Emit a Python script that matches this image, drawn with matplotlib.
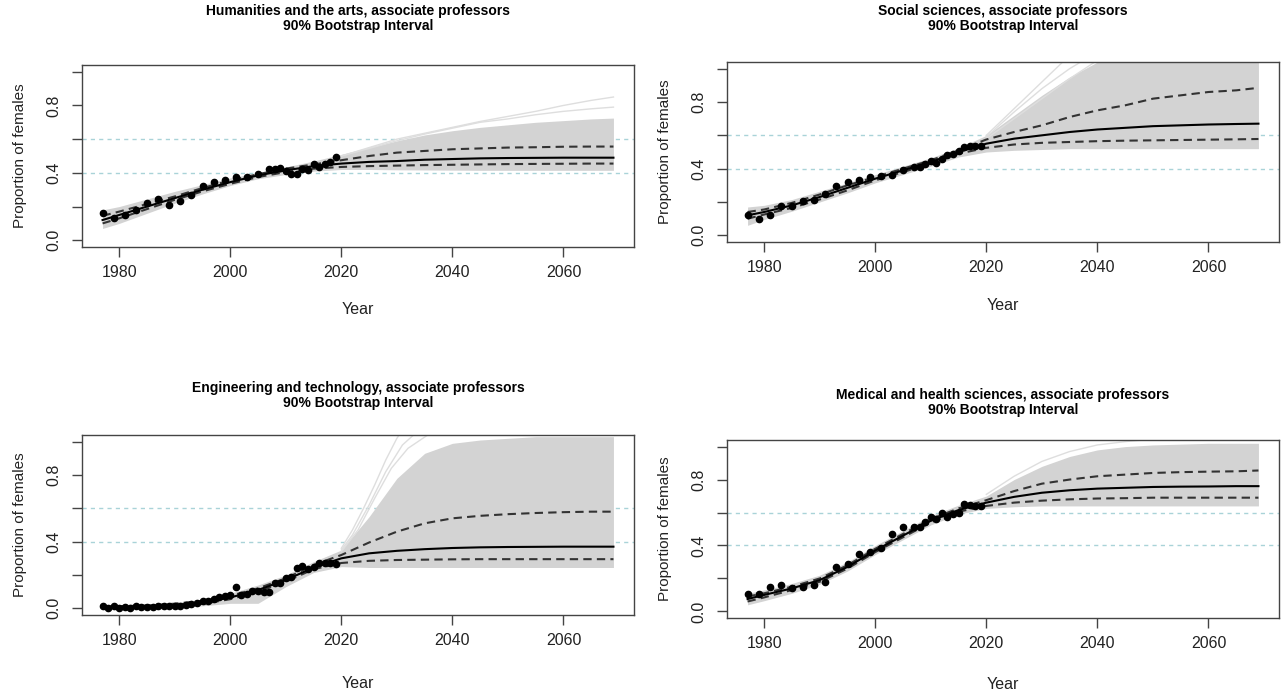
import matplotlib
matplotlib.use('Agg')
import matplotlib.pyplot as plt

plt.rcParams['font.family'] = ['Liberation Sans', 'DejaVu Sans']

# knot years for the fitted / bootstrap curves
knots = [1977, 1980, 1985, 1990, 1995, 2000, 2005, 2010, 2015, 2020,
         2025, 2030, 2035, 2040, 2045, 2050, 2055, 2060, 2065, 2069]

# ---- Humanities and the arts ----
hum_years = [1977, 1979, 1981, 1983, 1985, 1987, 1989, 1991, 1993, 1995, 1997, 1999, 2001, 2003,
             2005, 2007, 2008, 2009, 2010, 2011, 2012, 2013, 2014, 2015, 2016, 2017, 2018, 2019]
hum_obs = [0.16, 0.13, 0.15, 0.18, 0.22, 0.245, 0.21, 0.235, 0.27, 0.32, 0.345, 0.36, 0.375, 0.375,
           0.395, 0.42, 0.425, 0.43, 0.41, 0.395, 0.395, 0.42, 0.415, 0.45, 0.435, 0.45, 0.465, 0.495]
hum_med = [0.12, 0.15, 0.20, 0.25, 0.30, 0.345, 0.385, 0.415, 0.44, 0.455,
           0.465, 0.47, 0.478, 0.482, 0.486, 0.488, 0.489, 0.49, 0.49, 0.49]
hum_hi = [0.145, 0.17, 0.215, 0.26, 0.31, 0.355, 0.392, 0.425, 0.45, 0.475,
          0.50, 0.52, 0.53, 0.54, 0.545, 0.55, 0.552, 0.555, 0.556, 0.556]
hum_lo = [0.10, 0.13, 0.185, 0.24, 0.29, 0.335, 0.375, 0.405, 0.425, 0.435,
          0.44, 0.443, 0.446, 0.448, 0.45, 0.452, 0.453, 0.454, 0.455, 0.455]
hum_band_hi = [0.18, 0.20, 0.245, 0.29, 0.33, 0.37, 0.40, 0.435, 0.47, 0.51,
               0.55, 0.59, 0.625, 0.65, 0.67, 0.685, 0.70, 0.71, 0.72, 0.725]
hum_band_lo = [0.07, 0.10, 0.16, 0.22, 0.275, 0.325, 0.365, 0.39, 0.41, 0.42,
               0.42, 0.418, 0.417, 0.416, 0.415, 0.415, 0.415, 0.415, 0.415, 0.415]
hum_extra = [([2020, 2025, 2030, 2035, 2040, 2045, 2050, 2055, 2060, 2065, 2069],
              [0.50, 0.55, 0.60, 0.635, 0.67, 0.705, 0.735, 0.765, 0.80, 0.83, 0.85]),
             ([2020, 2025, 2030, 2035, 2040, 2045, 2050, 2055, 2060, 2065, 2069],
              [0.50, 0.545, 0.59, 0.63, 0.665, 0.70, 0.72, 0.745, 0.765, 0.78, 0.79])]

# ---- Social sciences ----
soc_years = [1977, 1979, 1981, 1983, 1985, 1987, 1989, 1991, 1993, 1995, 1997, 1999, 2001, 2003,
             2005, 2007, 2008, 2009, 2010, 2011, 2012, 2013, 2014, 2015, 2016, 2017, 2018, 2019]
soc_obs = [0.12, 0.098, 0.12, 0.174, 0.178, 0.208, 0.214, 0.248, 0.294, 0.32, 0.334, 0.348, 0.358, 0.364,
           0.39, 0.41, 0.41, 0.428, 0.444, 0.434, 0.458, 0.484, 0.49, 0.504, 0.528, 0.534, 0.538, 0.534]
soc_med = [0.12, 0.14, 0.18, 0.23, 0.285, 0.34, 0.39, 0.44, 0.50, 0.55,
           0.58, 0.60, 0.62, 0.635, 0.645, 0.655, 0.66, 0.665, 0.668, 0.67]
soc_hi = [0.14, 0.155, 0.195, 0.245, 0.30, 0.35, 0.40, 0.45, 0.51, 0.575,
          0.62, 0.66, 0.71, 0.75, 0.78, 0.82, 0.84, 0.86, 0.87, 0.885]
soc_lo = [0.10, 0.125, 0.165, 0.215, 0.27, 0.33, 0.38, 0.43, 0.49, 0.525,
          0.545, 0.555, 0.56, 0.565, 0.568, 0.57, 0.572, 0.574, 0.576, 0.578]
soc_band_hi = [0.17, 0.18, 0.215, 0.265, 0.315, 0.365, 0.415, 0.465, 0.525, 0.60,
               0.72, 0.84, 0.95, 1.04, 1.04, 1.04, 1.04, 1.04, 1.04, 1.04]
soc_band_lo = [0.06, 0.095, 0.145, 0.20, 0.255, 0.315, 0.365, 0.415, 0.47, 0.50,
               0.51, 0.515, 0.52, 0.52, 0.52, 0.52, 0.52, 0.52, 0.52, 0.52]
soc_extra = [([2020, 2025, 2030, 2035], [0.60, 0.76, 0.92, 1.08]),
             ([2020, 2025, 2030, 2035, 2040], [0.59, 0.74, 0.88, 1.00, 1.10]),
             ([2020, 2025, 2030, 2035, 2040], [0.58, 0.70, 0.82, 0.94, 1.05])]

# ---- Engineering and technology ----
eng_years = list(range(1977, 2020))
eng_obs = [0.016, 0.004, 0.016, 0.004, 0.008, 0.004, 0.016, 0.008, 0.008, 0.008, 0.012, 0.012, 0.016,
           0.012, 0.016, 0.02, 0.026, 0.03, 0.044, 0.046, 0.056, 0.066, 0.074, 0.082, 0.127, 0.08,
           0.087, 0.107, 0.107, 0.10, 0.096, 0.155, 0.155, 0.18, 0.19, 0.24, 0.255, 0.235, 0.25,
           0.27, 0.275, 0.275, 0.265]
eng_med = [0.005, 0.006, 0.01, 0.02, 0.035, 0.065, 0.11, 0.17, 0.245, 0.30,
           0.33, 0.345, 0.355, 0.362, 0.366, 0.368, 0.369, 0.37, 0.37, 0.37]
eng_hi = [0.012, 0.013, 0.017, 0.028, 0.045, 0.075, 0.12, 0.18, 0.26, 0.32,
          0.395, 0.46, 0.51, 0.54, 0.555, 0.565, 0.572, 0.577, 0.58, 0.58]
eng_lo = [0.0, 0.001, 0.004, 0.012, 0.027, 0.055, 0.10, 0.16, 0.235, 0.272,
          0.285, 0.29, 0.292, 0.294, 0.295, 0.295, 0.295, 0.295, 0.295, 0.295]
eng_band_hi = [0.02, 0.02, 0.025, 0.035, 0.055, 0.09, 0.14, 0.20, 0.28, 0.35,
               0.55, 0.78, 0.93, 0.99, 1.01, 1.02, 1.03, 1.03, 1.03, 1.03]
eng_band_lo = [0.0, 0.0, 0.0, 0.005, 0.015, 0.03, 0.03, 0.13, 0.215, 0.25,
               0.245, 0.245, 0.245, 0.245, 0.245, 0.245, 0.245, 0.245, 0.245, 0.245]
eng_extra = [([2020, 2022, 2024, 2026, 2028, 2030, 2032], [0.36, 0.47, 0.60, 0.74, 0.89, 1.02, 1.12]),
             ([2020, 2022, 2025, 2028, 2031, 2034], [0.35, 0.44, 0.62, 0.82, 0.98, 1.07]),
             ([2020, 2023, 2026, 2029, 2032, 2036], [0.34, 0.47, 0.66, 0.84, 0.96, 1.05])]

# ---- Medical and health sciences ----
med_years = [1977, 1979, 1981, 1983, 1985, 1987, 1989, 1991, 1993, 1995, 1997, 1999, 2001, 2003,
             2005, 2007, 2008, 2009, 2010, 2011, 2012, 2013, 2014, 2015, 2016, 2017, 2018, 2019]
med_obs = [0.105, 0.105, 0.146, 0.158, 0.142, 0.146, 0.158, 0.178, 0.27, 0.29, 0.35, 0.36, 0.384, 0.467,
           0.515, 0.51, 0.515, 0.54, 0.57, 0.56, 0.60, 0.57, 0.588, 0.60, 0.65, 0.645, 0.64, 0.64]
med_med = [0.075, 0.10, 0.14, 0.19, 0.27, 0.37, 0.46, 0.55, 0.615, 0.66,
           0.695, 0.72, 0.735, 0.745, 0.75, 0.755, 0.757, 0.758, 0.76, 0.76]
med_hi = [0.09, 0.11, 0.15, 0.20, 0.28, 0.38, 0.47, 0.56, 0.625, 0.675,
          0.73, 0.775, 0.80, 0.82, 0.83, 0.84, 0.845, 0.848, 0.85, 0.855]
med_lo = [0.06, 0.085, 0.13, 0.18, 0.26, 0.36, 0.45, 0.54, 0.605, 0.64,
          0.66, 0.672, 0.68, 0.685, 0.687, 0.69, 0.69, 0.69, 0.69, 0.69]
med_band_hi = [0.11, 0.13, 0.17, 0.22, 0.30, 0.40, 0.49, 0.58, 0.645, 0.70,
               0.80, 0.88, 0.94, 0.98, 1.0, 1.01, 1.015, 1.02, 1.02, 1.02]
med_band_lo = [0.04, 0.065, 0.11, 0.165, 0.245, 0.345, 0.435, 0.525, 0.59, 0.625,
               0.635, 0.64, 0.64, 0.64, 0.64, 0.64, 0.64, 0.64, 0.64, 0.64]
med_extra = [([2020, 2025, 2030, 2035, 2040, 2045, 2050, 2060, 2069],
              [0.71, 0.82, 0.91, 0.97, 1.01, 1.03, 1.045, 1.06, 1.06])]

# title pad (pt) and xlabel offset per panel, plus axes box in pixels
panels = [
    ("Humanities and the arts, associate professors", hum_years, hum_obs, hum_med, hum_hi, hum_lo,
     hum_band_hi, hum_band_lo, hum_extra, (82, 634, 65, 247), 25, -0.30),
    ("Social sciences, associate professors", soc_years, soc_obs, soc_med, soc_hi, soc_lo,
     soc_band_hi, soc_band_lo, soc_extra, (727, 1279, 62, 242), 23, -0.31),
    ("Engineering and technology, associate professors", eng_years, eng_obs, eng_med, eng_hi, eng_lo,
     eng_band_hi, eng_band_lo, eng_extra, (82, 634, 435, 615), 20, -0.34),
    ("Medical and health sciences, associate professors", med_years, med_obs, med_med, med_hi, med_lo,
     med_band_hi, med_band_lo, med_extra, (727, 1279, 440, 618), 19, -0.33),
]

W, H = 1282, 693
fig = plt.figure(figsize=(W / 100, H / 100), dpi=100)

for title, yrs, obs, med, hi, lo, bhi, blo, extra, (x0, x1, y0, y1), tpad, xl in panels:
    ax = fig.add_axes([x0 / W, 1 - y1 / H, (x1 - x0) / W, (y1 - y0) / H])

    ax.fill_between(knots, blo, bhi, color='#d3d3d3', lw=0, zorder=1)
    for ex, ey in extra:
        ax.plot(ex, ey, color='#dedede', lw=1, zorder=1)

    ax.axhline(0.4, color='#a9d3d8', lw=1, ls=(0, (3, 3)), zorder=0)
    ax.axhline(0.6, color='#a9d3d8', lw=1, ls=(0, (3, 3)), zorder=0)

    ax.plot(knots, hi, color='#333333', lw=1.5, ls=(0, (4, 2.5)), zorder=3)
    ax.plot(knots, lo, color='#333333', lw=1.5, ls=(0, (4, 2.5)), zorder=3)
    ax.plot(knots, med, color='black', lw=1.5, zorder=3)
    ax.plot(yrs, obs, 'o', color='black', ms=4.5, zorder=4)

    ax.set_xlim(1973.3, 2072.7)
    ax.set_ylim(-0.04, 1.04)
    ax.set_xticks([1980, 2000, 2020, 2040, 2060])
    ax.set_yticks([0.0, 0.2, 0.4, 0.6, 0.8, 1.0])
    ax.set_yticklabels(['0.0', '', '0.4', '', '0.8', ''], rotation=90, va='center')
    ax.tick_params(length=7, width=1, color='#444444', labelsize=11.5, labelcolor='#222222')
    ax.tick_params(axis='x', pad=6)
    ax.tick_params(axis='y', pad=8)
    for s in ax.spines.values():
        s.set_color('#444444')
        s.set_linewidth(1)

    ax.set_xlabel('Year', fontsize=11.5, color='#222222')
    ax.xaxis.set_label_coords(0.5, xl)
    ax.set_ylabel('Proportion of females', fontsize=11, color='#222222')
    ax.yaxis.set_label_coords(-0.1, 0.5)
    ax.set_title(title + '\n90% Bootstrap Interval', fontsize=10, fontweight='bold', pad=tpad,
                 linespacing=1.1)

fig.savefig('out.png', dpi=100)
